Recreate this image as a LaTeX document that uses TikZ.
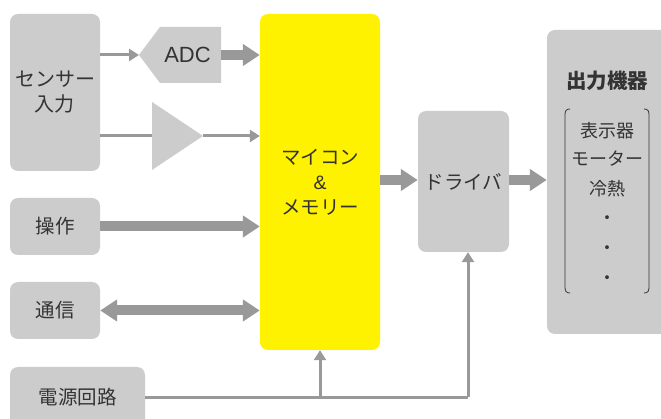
\documentclass[tikz,border=0pt]{standalone}
\usepackage{fontspec}
\setmainfont{Noto Sans CJK JP}
\newfontfamily\latinfont{Liberation Sans}
\usetikzlibrary{arrows.meta}
\definecolor{boxgray}{HTML}{CCCCCC}
\definecolor{arrgray}{HTML}{999999}
\definecolor{txt}{HTML}{333333}
\definecolor{mcuyellow}{HTML}{FFF200}
\tikzset{
  blk/.style={fill=boxgray, rounded corners=8pt, draw=none, inner sep=0pt, text=txt, align=center,
    font=\fontsize{19.5}{25}\selectfont},
  thinarr/.style={draw=arrgray, line width=3pt, -{Triangle[length=10pt,width=12pt]}},
  thinline/.style={draw=arrgray, line width=3pt},
  thickarr/.style={draw=arrgray, line width=10pt, -{Triangle[length=17pt,width=21pt]}},
  dblarr/.style={draw=arrgray, line width=10pt, {Triangle[length=17pt,width=21pt]}-{Triangle[length=17pt,width=21pt]}},
  lbl/.style={text=txt, inner sep=0pt, font=\fontsize{18}{25}\selectfont, align=center},
}
\begin{document}
\begin{tikzpicture}[x=1pt,y=-1pt]
\clip (0,0) rectangle (661,419);
\fill[white] (0,0) rectangle (661,419);
% blocks
\node[blk, font=\fontsize{20}{25}\selectfont, minimum width=90pt, minimum height=157pt] (sens) at (55,92.5) {センサー\\入力};
\node[blk, minimum width=90pt, minimum height=57pt] (ope) at (55,226.5) {操作};
\node[blk, minimum width=90pt, minimum height=57pt] (com) at (55,310.5) {通信};
\node[blk, minimum width=135pt, minimum height=60pt] (pwr) at (77.5,397) {電源回路};
\node[blk, fill=mcuyellow, minimum width=120pt, minimum height=336pt] (mcu) at (320,182) {マイコン\\{\latinfont \&}\\メモリー};
\node[blk, minimum width=91pt, minimum height=141pt] (drv) at (463.5,181.5) {ドライバ};
\node[blk, minimum width=140pt, minimum height=304pt] (out) at (617,182) {};
% ADC pentagon
\fill[boxgray] (139,55) -- (160,27) -- (221,27) -- (221,83) -- (160,83) -- cycle;
\coordinate (adcin) at (139,55);
\coordinate (adcout) at (221,55);
\node[lbl, font=\latinfont\fontsize{22}{25}\selectfont] (adc) at (187.5,55) {ADC};
% amplifier
\fill[boxgray] (152,102) -- (203,136) -- (152,170) -- cycle;
\coordinate (ampin) at (152,136);
\coordinate (ampout) at (203,136);
% output texts
\node[lbl, font=\bfseries\fontsize{20.5}{25}\selectfont] (outt) at (607,81) {出力機器};
\node[lbl] (o1) at (607,131) {表示器};
\node[lbl] (o2) at (607,159) {モーター};
\node[lbl] (o3) at (607,189) {冷熱};
\node[lbl] (d1) at (607,220) {・};
\node[lbl] (d2) at (607,250) {・};
\node[lbl] (d3) at (607,280) {・};
\draw[txt, line width=0.8pt] (570,109) .. controls (566,109) and (565,111) .. (565,115) -- (565,287) .. controls (565,291) and (566,293) .. (570,293);
\draw[txt, line width=0.8pt] (644,109) .. controls (648,109) and (649,111) .. (649,115) -- (649,287) .. controls (649,291) and (648,293) .. (644,293);
% connectors
\draw[thinarr] (sens.east |- adcin) -- (adcin);
\draw[thickarr] (adcout) -- (mcu.west |- adcout);
\draw[thinline] (sens.east |- ampin) -- (ampin);
\draw[thinarr] (ampout) -- (mcu.west |- ampout);
\draw[thickarr] (ope.east) -- (mcu.west |- ope.east);
\draw[dblarr] (com.east) -- (mcu.west |- com.east);
\draw[thickarr] (mcu.east |- 0,180) -- (drv.west |- 0,180);
\draw[thickarr] (drv.east |- 0,180) -- (out.west |- 0,180);
\coordinate (j1) at (320,397);
\coordinate (j2) at (468,397);
\draw[thinline] (pwr.east) -- (j2);
\draw[thinarr] (j2) -- (j2 |- drv.south);
\draw[thinarr] (j1) -- (mcu.south);
\end{tikzpicture}
\end{document}
